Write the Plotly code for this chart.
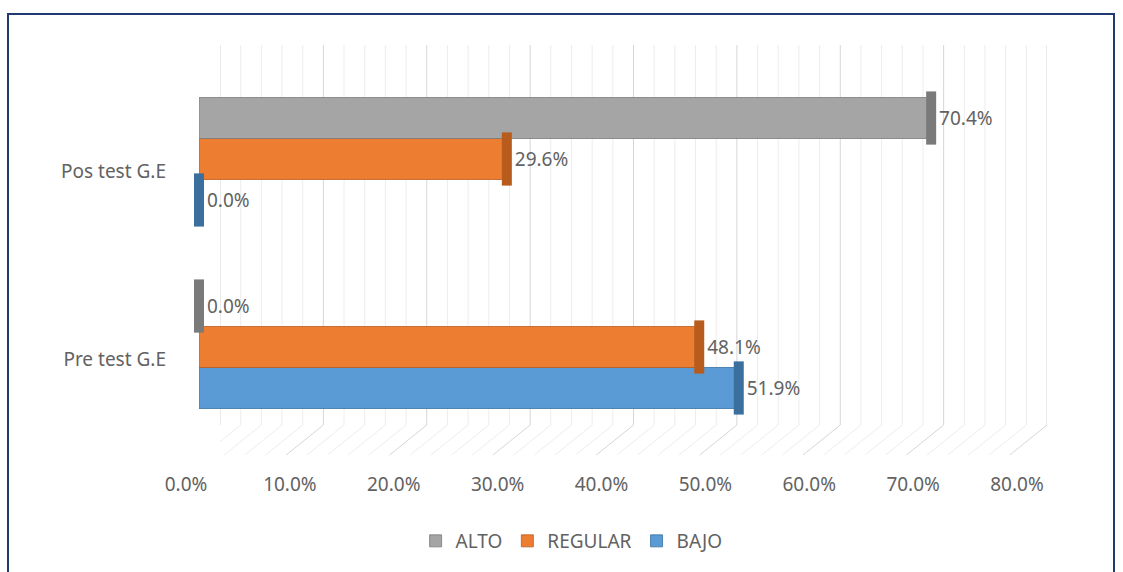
import numpy as np
import plotly.graph_objects as go

# ---------------- data ----------------
categories = ["Pre test G.E", "Pos test G.E"]
series_names = ["BAJO", "REGULAR", "ALTO"]          # bottom -> top inside each group
bajo = [0.519, 0.0]
regular = [0.481, 0.296]
alto = [0.0, 0.704]
tick_vals = [0.0, 0.1, 0.2, 0.3, 0.4, 0.5, 0.6, 0.7, 0.8]
minor_vals = [round(v, 2) for v in np.arange(0, 0.801, 0.02)]

values = {"BAJO": bajo, "REGULAR": regular, "ALTO": alto}
colors = {"BAJO": "#5B9BD5", "REGULAR": "#ED7D31", "ALTO": "#A5A5A5"}
cap_colors = {"BAJO": "#3A6F9E", "REGULAR": "#B85C1E", "ALTO": "#7A7A7A"}

W, H = 1123, 572
def px(xp):
    return xp / W
def py(yp):
    return 1 - yp / H

TEXT = "#626262"
FONT = "Noto Sans"
FS = 19

fig = go.Figure()

# helper (invisible) traces so that the back-wall and tick-label axes exist
fig.add_trace(go.Scatter(x=tick_vals, y=[0] * len(tick_vals), xaxis="x2", yaxis="y2",
                         mode="markers", marker=dict(opacity=0), hoverinfo="skip",
                         showlegend=False))
fig.add_trace(go.Scatter(x=tick_vals, y=[0] * len(tick_vals), xaxis="x3", yaxis="y2",
                         mode="markers", marker=dict(opacity=0), hoverinfo="skip",
                         showlegend=False))

for name in series_names:
    fig.add_trace(go.Bar(
        y=categories, x=values[name], name=name, orientation="h",
        marker=dict(color=colors[name], line=dict(color=cap_colors[name], width=0.8)),
        offsetgroup=name,
        text=["\u00a0{:.1%}".format(v) for v in values[name]],
        textposition="outside", cliponaxis=False,
        textfont=dict(family=FONT, size=FS, color=TEXT),
    ))

# cylinder end caps
for name in series_names:
    fig.add_trace(go.Scatter(
        y=categories, x=values[name], orientation="h", mode="markers",
        offsetgroup=name, showlegend=False, hoverinfo="skip",
        marker=dict(symbol="line-ns", size=38,
                    line=dict(color=cap_colors[name], width=10)),
        cliponaxis=False,
    ))

# gridlines on the back wall + floor diagonals (drawn below everything)
shapes = []
for v in minor_vals:
    major = abs(v * 10 - round(v * 10)) < 1e-6
    col = "#D6D6D6" if major else "#EDEDED"
    shapes.append(dict(type="line", xref="x2", yref="paper",
                       x0=v, y0=py(45), x1=v, y1=py(425),
                       line=dict(color=col, width=1), layer="below"))
    shapes.append(dict(type="line", xref="x2", yref="paper",
                       x0=v, y0=py(425), x1=v - 0.036, y1=py(455),
                       line=dict(color=col, width=1), layer="below"))
# outer frame
shapes.append(dict(type="rect", xref="paper", yref="paper",
                   x0=px(8), x1=px(1114), y0=-0.05, y1=py(14),
                   line=dict(color="#1F3A6E", width=2), fillcolor="rgba(0,0,0,0)"))

fig.update_layout(
    width=W, height=H, autosize=False,
    margin=dict(l=0, r=0, t=0, b=0, autoexpand=False),
    paper_bgcolor="white", plot_bgcolor="rgba(0,0,0,0)",
    barmode="group", bargap=0.346, bargroupgap=0.0,
    scattermode="group", scattergap=0.346,
    font=dict(family=FONT, color=TEXT, size=FS),
    xaxis=dict(domain=[px(199), px(1031)], range=[0, 0.8], showgrid=False,
               zeroline=False, showticklabels=False, showline=False,
               automargin=False),
    yaxis=dict(domain=[py(441), py(65)], range=[-0.5, 1.5], showgrid=False,
               zeroline=False, showline=False, ticks="", automargin=False,
               tickfont=dict(family=FONT, size=FS, color=TEXT),
               ticklabelstandoff=32, ticklabelshift=12),
    xaxis2=dict(domain=[px(220), px(1047)], range=[0, 0.8], anchor="y2",
                visible=False, automargin=False),
    yaxis2=dict(domain=[0, 0.05], range=[0, 1], anchor="x2", visible=False,
                automargin=False),
    xaxis3=dict(domain=[px(186), px(1017)], range=[0, 0.8], anchor="free",
                position=py(471), tickvals=tick_vals,
                tickformat=".1%", showgrid=False, zeroline=False, ticks="",
                showline=False, automargin=False,
                tickfont=dict(family=FONT, size=FS, color=TEXT)),
    legend=dict(orientation="h", x=0.509, xanchor="center", y=py(541), yanchor="middle",
                traceorder="reversed", itemwidth=30,
                font=dict(family=FONT, size=FS, color=TEXT)),
    shapes=shapes,
)

fig.write_html("out.html")
